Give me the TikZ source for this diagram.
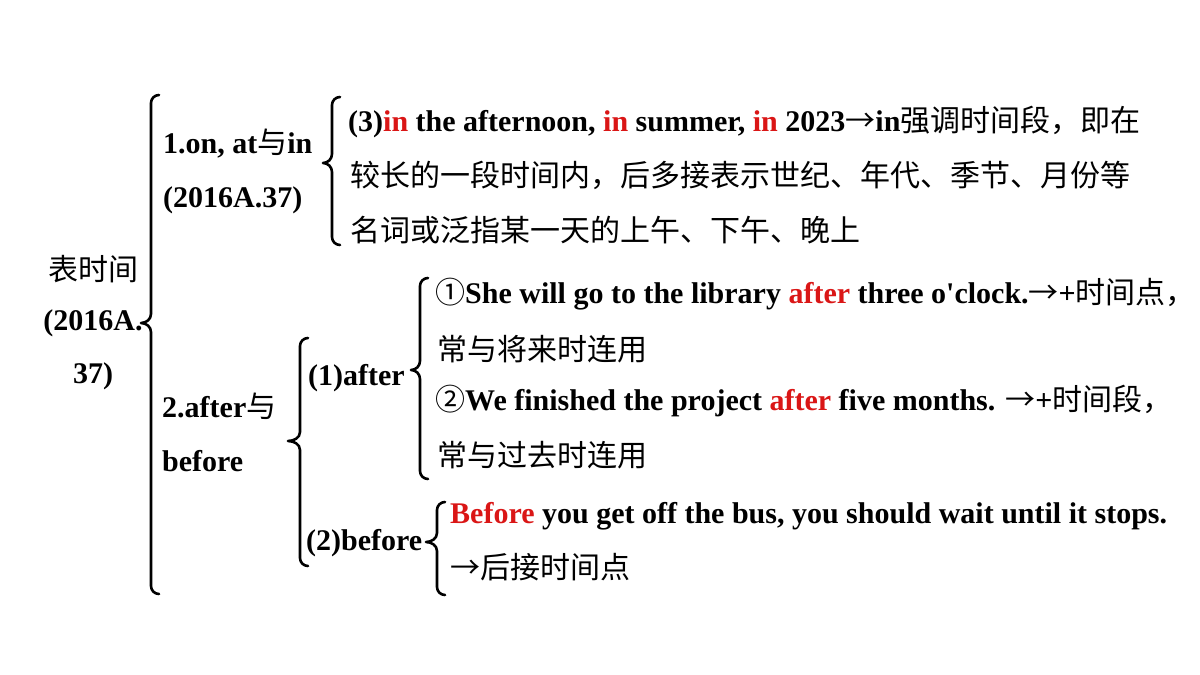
\documentclass[tikz,border=0pt]{standalone}
\usepackage{fontspec}
\setmainfont{Liberation Serif}
\newfontfamily\cjk{Noto Sans CJK SC}[Scale=1.0]
\definecolor{myred}{RGB}{218,22,22}
\newcommand\rd[1]{\textcolor{myred}{#1}}
\newcommand\zh[1]{{\cjk\mdseries #1}}
\newcommand\drawbrace[5]{%
  \draw[bracestyle] ({#1+8},#2) to[out=180,in=90] (#1,{#2+8}) -- (#1,{#3-9})
    to[out=-90,in=0] ({#1-#5},#3) to[out=0,in=90] (#1,{#3+9}) -- (#1,{#4-8})
    to[out=-90,in=180] ({#1+8},#4);}
\begin{document}
\begin{tikzpicture}[x=1pt,y=-1pt,
  txt/.style={anchor=base west,inner sep=0pt,font=\fontsize{30}{34}\selectfont\bfseries},
  ctxt/.style={anchor=base,inner sep=0pt,font=\fontsize{30}{34}\selectfont\bfseries},
  bracestyle/.style={line width=2.6pt,line cap=round,line join=round}]
\useasboundingbox (0,0) rectangle (1200,675);
% root
\node[ctxt] (r1) at (93,280) {\zh{表时间}};
\node[ctxt] (r2) at (93,330) {(2016A.};
\node[ctxt] (r3) at (93,383) {37)};
\drawbrace{151}{95}{323}{594}{10}
% branch 1
\node[txt] (a1) at (163,153) {1.on, at\zh{与}in};
\node[txt] (a2) at (163,207) {(2016A.37)};
\drawbrace{332}{97}{163}{245}{9}
\node[txt] (a3) at (348,131) {(3)\rd{in} the afternoon, \rd{in} summer, \rd{in} 2023\zh{→}in\zh{强调时间段，即在}};
\node[txt] (a4) at (350,186) {\zh{较长的一段时间内，后多接表示世纪、年代、季节、月份等}};
\node[txt] (a5) at (350,241) {\zh{名词或泛指某一天的上午、下午、晚上}};
% branch 2
\node[txt] (b1) at (162,417) {2.after\zh{与}};
\node[txt] (b2) at (162,471) {before};
\drawbrace{300}{338}{441}{566}{12}
\node[txt] (c1) at (308,385) {(1)after};
\drawbrace{420}{278}{370}{479}{9}
\node[txt] (d1) at (435,303) {\zh{①}She will go to the library \rd{after} three o\textquotesingle clock.\zh{→}+\zh{时间点，}};
\node[txt] (d2) at (437,360) {\zh{常与将来时连用}};
\node[txt] (d3) at (435,410) {\zh{②}We finished the project \rd{after} five months. \zh{→}+\zh{时间段，}};
\node[txt] (d4) at (437,466) {\zh{常与过去时连用}};
\node[txt] (c2) at (306,550) {(2)before};
\drawbrace{437}{502}{542}{595}{11}
\node[txt] (e1) at (450,523) {\rd{Before} you get off the bus, you should wait until it stops.};
\node[txt] (e2) at (450,578) {\zh{→后接时间点}};
\end{tikzpicture}
\end{document}
